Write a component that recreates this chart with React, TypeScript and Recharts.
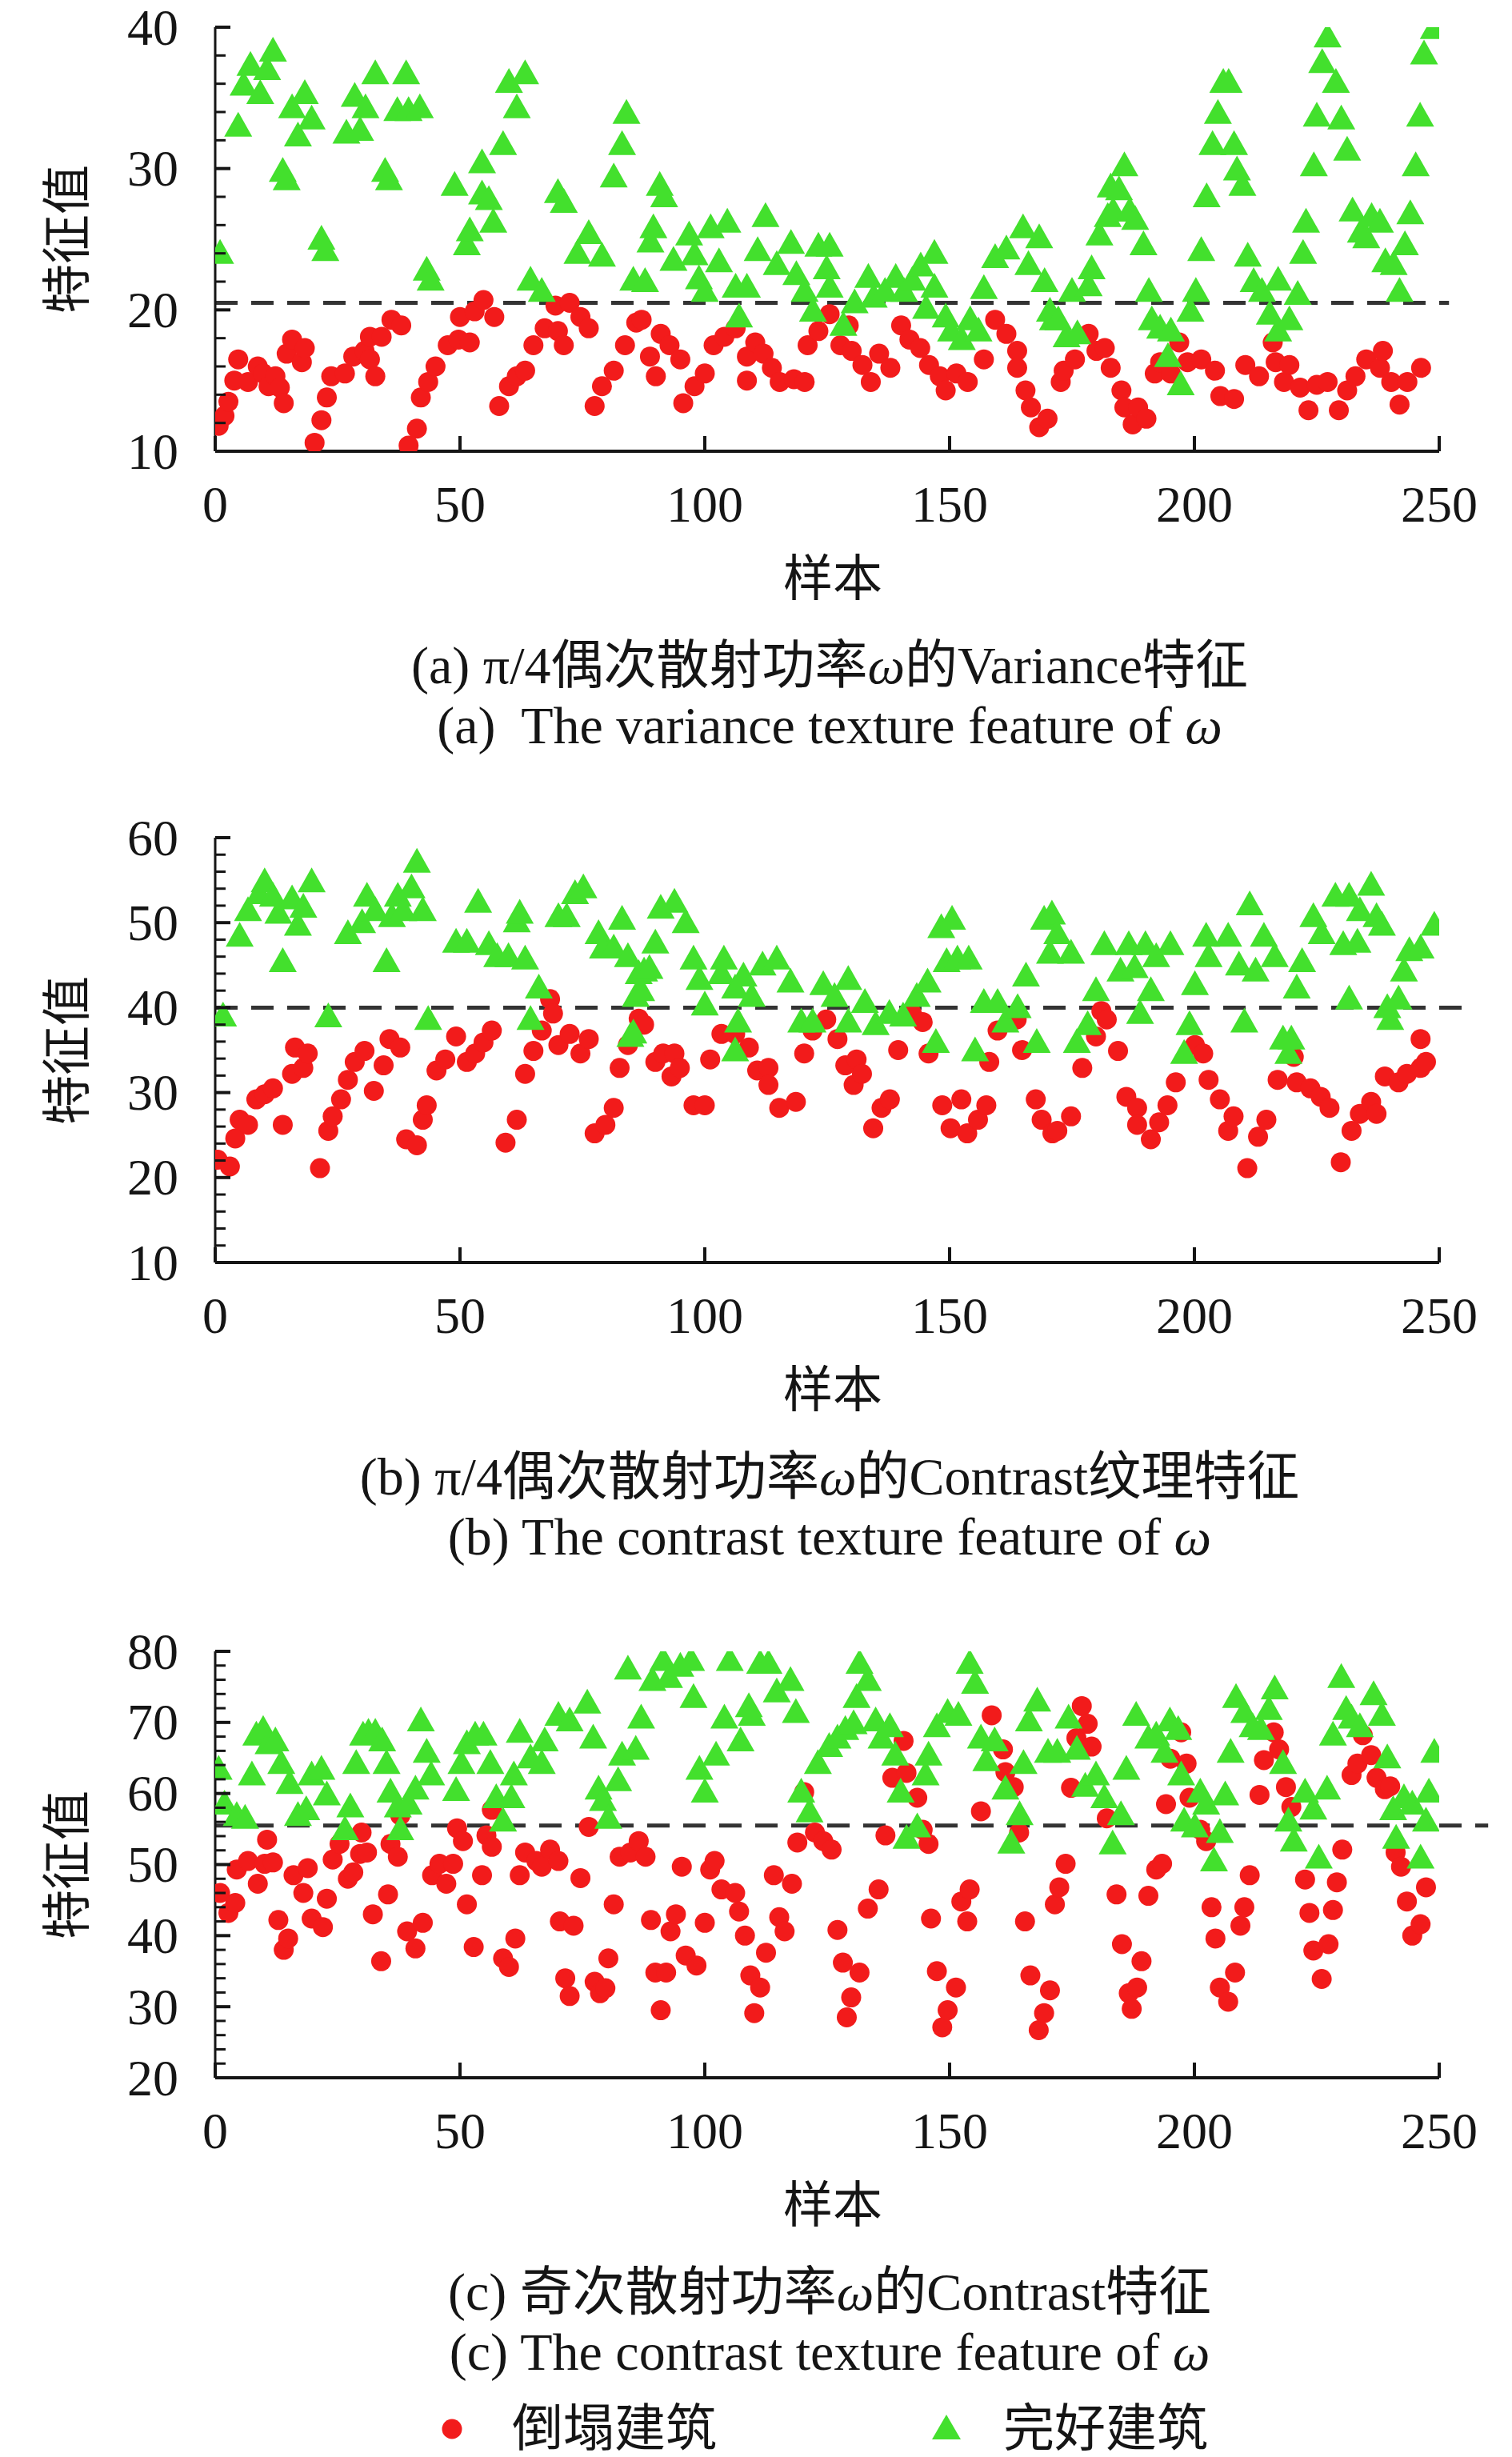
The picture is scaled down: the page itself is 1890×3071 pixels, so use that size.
import { ScatterChart, Scatter, XAxis, YAxis, ReferenceLine } from 'recharts';

// 样本编号 [x, 特征值 y]
const X_TICKS = [0, 50, 100, 150, 200, 250];
const Y_TICKS_A = [10, 12, 14, 16, 18, 20, 22, 24, 26, 28, 30, 32, 34, 36, 38, 40];
const Y_TICKS_B = [10, 12, 14, 16, 18, 20, 22, 24, 26, 28, 30, 32, 34, 36, 38, 40, 42, 44, 46, 48, 50, 52, 54, 56, 58, 60];
const Y_TICKS_C = [20, 22, 24, 26, 28, 30, 32, 34, 36, 38, 40, 42, 44, 46, 48, 50, 52, 54, 56, 58, 60, 62, 64, 66, 68, 70, 72, 74, 76, 78, 80];

const THRESHOLD_A = 20.5;
const THRESHOLD_B = 40;
const THRESHOLD_C = 55.5;

const COLLAPSED_A = [
  [0.7, 11.8], [1.9, 12.5], [2.7, 13.5], [3.9, 15], [4.7, 16.5], [6.7, 14.9], [8.7, 16], [9.8, 15.5], [10.9, 14.6], [12.3, 15.3],
  [13.2, 14.5], [14, 13.4], [14.6, 16.9], [15.7, 17.9], [17.7, 16.3], [18.3, 17.3], [20.3, 10.6], [21.7, 12.2], [22.8, 13.8], [23.7, 15.3],
  [26.5, 15.5], [28.2, 16.7], [30.5, 17.1], [31.6, 16.5], [31.6, 18.1], [32.7, 15.3], [34, 18.1], [36, 19.3], [38, 18.9], [39.5, 10.4],
  [41.2, 11.6], [42, 13.8], [43.5, 14.9], [45, 16], [47.5, 17.5], [49.7, 17.9], [50, 19.5], [52, 17.7], [53, 19.9], [54.8, 20.7],
  [57, 19.5], [58, 13.2], [60, 14.6], [61.6, 15.3], [63.3, 15.7], [65, 17.5], [67.3, 18.7], [69.5, 20.3], [70, 18.5], [71.2, 17.5],
  [72.4, 20.5], [74.6, 19.5], [76.3, 18.7], [77.5, 13.2], [79, 14.6], [81.4, 15.7], [83.7, 17.5], [86, 19.1], [87.1, 19.3], [88.8, 16.7],
  [90, 15.3], [91, 18.3], [92.8, 17.5], [95, 16.5], [95.6, 13.4], [97.9, 14.6], [100, 15.5], [101.8, 17.5], [104, 18.1], [106.3, 18.7],
  [108.6, 15], [108.6, 16.7], [110.3, 17.7], [112, 16.9], [113.7, 15.9], [115.3, 14.9], [118.2, 15.1], [120.4, 14.9], [121, 17.5], [123.2, 18.5],
  [125.5, 19.7], [127.7, 17.5], [129.4, 18.9], [130, 17.1], [132.2, 16.1], [133.9, 14.9], [135.6, 16.9], [137.9, 15.9], [140.1, 18.9], [141.8, 17.9],
  [144, 17.3], [145.8, 16.1], [148, 15.3], [149.2, 14.3], [151.4, 15.5], [153.7, 14.9], [157, 16.5], [159.3, 19.3], [161.6, 18.3], [163.8, 17.1],
  [163.8, 15.9], [165.5, 14.3], [166.6, 13.1], [168.3, 11.7], [170, 12.3], [172.7, 14.9], [173.3, 15.7], [175.6, 16.5], [178.4, 18.3], [180, 17.1],
  [181.7, 17.3], [182.9, 15.9], [185.1, 14.3], [185.7, 13.1], [187.4, 11.9], [188.5, 13.1], [190.2, 12.3], [191.9, 15.5], [193, 16.3], [195.2, 15.5],
  [196.9, 17.7], [198.6, 16.3], [201.4, 16.5], [204.2, 15.7], [205.3, 13.9], [208.1, 13.7], [210.4, 16.1], [213.2, 15.3], [216, 17.7], [216.6, 16.3],
  [218.3, 14.9], [219.4, 16.1], [221.6, 14.5], [223.3, 12.9], [225, 14.7], [227.2, 14.9], [229.5, 12.9], [231.2, 14.3], [232.9, 15.3], [235.1, 16.5],
  [237.9, 15.9], [238.5, 17.1], [240.2, 14.9], [241.9, 13.3], [243.5, 14.9], [246.3, 15.9],
];

const INTACT_A = [
  [1, 24], [4.7, 33], [5.8, 35.9], [7.2, 37.3], [9.2, 35.3], [10.6, 37], [11.8, 38.3], [13.8, 29.8], [14.6, 29.2], [15.7, 34.3],
  [16.9, 32.3], [18.3, 35.3], [19.7, 33.5], [21.7, 25], [22.5, 24.2], [26.8, 32.5], [28.5, 35.1], [29.6, 32.7], [30.7, 34.3], [32.7, 36.7],
  [34.7, 29.8], [35.5, 29.2], [37.2, 34.1], [39, 36.7], [39.5, 34.1], [41.8, 34.3], [43.2, 22.8], [44, 22.1], [48.9, 28.8], [51.4, 24.6],
  [52, 25.6], [54.5, 30.4], [54.5, 28.2], [55.9, 27.8], [56.8, 26.2], [58.8, 31.7], [60, 36.1], [61.6, 34.3], [63.3, 36.7], [64.4, 22.1],
  [66.7, 21.3], [70, 28.3], [71.2, 27.6], [74, 24], [76.3, 25.4], [79, 23.8], [81.4, 29.4], [83.1, 31.7], [84, 33.9], [85.4, 22.1],
  [87.8, 22], [88.9, 24.8], [89.5, 25.8], [90.8, 28.8], [91.7, 28], [93.6, 23.5], [96.8, 25.3], [97.9, 23.9], [98.8, 22.2], [100, 21.3],
  [101.2, 25.8], [102.9, 23.4], [104.6, 26.2], [106.3, 21.6], [107, 19.5], [108.6, 21.6], [110.8, 24.2], [112.4, 26.6], [114.7, 23.2], [117.6, 24.7],
  [118.7, 22.5], [120.4, 21.3], [122.1, 19.9], [123.2, 24.5], [124.9, 22.9], [125.5, 24.5], [125.5, 21.6], [128.3, 18.9], [130.6, 20.5], [133.4, 22.3],
  [134.5, 20.9], [136.8, 21.3], [139, 22.3], [140.7, 21.3], [142.4, 22.1], [144.1, 23.1], [145.2, 20.1], [146.9, 24], [146.9, 21.6], [149.2, 19.5],
  [150.3, 18.5], [152.5, 17.9], [154.2, 19.3], [155.9, 18.5], [157, 21.5], [159.3, 23.7], [161.6, 24.3], [165, 25.8], [166.1, 23.2], [168.3, 25.1],
  [169.4, 22], [170.5, 19.9], [171.1, 19.3], [172.2, 19.3], [173.9, 18.1], [175, 21.3], [176.1, 18.3], [178.4, 21.7], [179, 22.9], [180.6, 25.3],
  [182.3, 26.6], [182.9, 28.7], [183.4, 27], [184.6, 28.5], [185.7, 30.2], [186.8, 27], [187.9, 26.4], [189.6, 24.6], [190.7, 21.3], [191.3, 19.3],
  [193, 18.7], [194.6, 16.7], [195.2, 18.5], [197.2, 14.7], [199.2, 19.9], [200.3, 21.3], [201.4, 24.2], [202.5, 28], [203.7, 31.7], [204.8, 33.9],
  [205.9, 36.1], [207, 36.1], [208.1, 31.7], [208.7, 29.9], [209.8, 28.8], [210.9, 23.8], [212.1, 22], [213.8, 21.3], [215.4, 19.7], [217.1, 22.1],
  [217.1, 18.5], [219.4, 19.3], [221.1, 21.1], [222.2, 24], [222.8, 26.2], [224.4, 30.2], [225, 33.7], [226.1, 37.5], [227.2, 39.3], [228.9, 36.1],
  [230, 33.5], [231.2, 31.3], [232.3, 27], [234, 25.5], [235.1, 25.1], [236.2, 26.6], [237.9, 26.2], [239, 23.4], [240.7, 23.2], [241.9, 21.3],
  [243, 24.6], [244.1, 26.8], [245.2, 30.2], [246.1, 33.7], [246.9, 38.1], [248.9, 39.9],
];

const COLLAPSED_B = [
  [0.5, 22.1], [3, 21.3], [4.1, 24.6], [5, 26.8], [6.7, 26.2], [8.4, 29.2], [10.1, 29.8], [11.8, 30.5], [13.8, 26.2], [15.7, 32.2],
  [16.3, 35.3], [18, 32.9], [18.9, 34.6], [21.4, 21.1], [23.1, 25.5], [24, 27.2], [25.7, 29.2], [27.1, 31.5], [28.5, 33.6], [30.5, 34.9],
  [32.4, 30.2], [34.4, 33.2], [35.6, 36.3], [37.8, 35.3], [39, 24.5], [41.2, 23.8], [42.4, 26.8], [43.2, 28.5], [45.2, 32.6], [47, 33.9],
  [49.2, 36.6], [51.4, 33.6], [53.1, 34.6], [54.8, 35.9], [56.5, 37.3], [59.3, 24.1], [61.6, 26.8], [63.3, 32.2], [65, 34.9], [66.7, 37.3],
  [68.4, 41], [69, 39.3], [70.1, 35.6], [72.4, 36.9], [74.6, 34.6], [76.3, 36.3], [77.5, 25.2], [79.7, 26.2], [81.4, 28.2], [82.6, 32.9],
  [84.3, 35.6], [86.5, 38.7], [87.6, 38], [89.9, 33.6], [91.5, 34.6], [93.2, 31.9], [93.8, 34.6], [94.9, 32.9], [97.7, 28.5], [100, 28.5],
  [101.1, 33.9], [103.4, 36.9], [106.2, 36.9], [109, 35.3], [110.7, 32.6], [113, 32.9], [113, 30.9], [115.2, 28.2], [118.6, 28.9], [120.3, 34.6],
  [122, 37.3], [124.8, 38.6], [127.1, 36.3], [128.7, 33.2], [130.4, 30.9], [131, 33.9], [132.1, 32.2], [134.4, 25.8], [136.1, 28.2], [137.8, 29.2],
  [139.5, 35], [142.3, 39.3], [144.5, 38.3], [145.7, 34.6], [148.5, 28.5], [150.2, 25.8], [152.4, 29.2], [153.6, 25.2], [155.8, 26.8], [157.5, 28.5],
  [158.1, 33.6], [159.8, 37.3], [163.7, 38.6], [164.8, 35], [167.6, 29.2], [168.8, 26.8], [171, 25.2], [172, 25.5], [174.8, 27.2], [177.1, 32.9],
  [179.9, 36.6], [181, 39.6], [182.1, 38.6], [184.4, 34.9], [186.1, 29.5], [188.3, 28.2], [188.3, 26.2], [191.1, 24.5], [192.8, 26.5], [194.5, 28.5],
  [196.2, 31.2], [200.1, 35.6], [201.8, 34.6], [202.9, 31.5], [205.2, 29.2], [206.9, 25.5], [208, 27.2], [210.8, 21.1], [213, 24.8], [214.7, 26.8],
  [217, 31.5], [220.3, 34.2], [220.9, 31.2], [223.7, 30.5], [225.8, 29.5], [227.6, 28.2], [229.9, 21.8], [232.1, 25.5], [233.8, 27.5], [236.1, 28.9],
  [237.2, 27.5], [238.9, 31.9], [241.7, 31.2], [243.4, 32.2], [246.2, 32.9], [246.2, 36.3], [247.3, 33.6],
];

const INTACT_B = [
  [1.6, 39], [5, 48.4], [6.7, 51.4], [9, 53.4], [10.1, 54.8], [11.8, 53.1], [12.9, 51.1], [13.8, 45.4], [15.7, 52.8], [16.9, 49.7],
  [18, 51.8], [19.7, 54.8], [23.1, 38.9], [27.1, 48.7], [30, 50], [31, 53.1], [32.7, 51.4], [35, 45.4], [36.1, 50.7], [37.3, 53.1],
  [38.4, 51.4], [40.1, 54.1], [41.2, 57.1], [42.4, 51.4], [43.5, 38.6], [49.2, 47.7], [51.4, 47.7], [53.7, 52.4], [55.9, 47.4], [57.6, 46],
  [59.9, 46], [61.6, 50.1], [62.2, 51.1], [63.3, 45.7], [64.4, 38.6], [66.1, 42.3], [70.1, 50.7], [71.8, 50.7], [73.5, 53.4], [75.2, 54.1],
  [78.3, 48.7], [79.2, 47], [81.4, 47], [83.1, 50.4], [84.3, 46], [84.8, 36.6], [85.4, 37], [85.9, 41.3], [86.5, 44], [87, 42],
  [87.6, 44.3], [88.7, 44.6], [89.9, 47.6], [91, 51.7], [93.8, 52.4], [96.1, 50], [97.7, 45.7], [98.9, 43.3], [100, 40.3], [103.4, 44],
  [103.9, 45.7], [106.2, 42.3], [106.2, 34.9], [106.8, 38.3], [107.9, 43.7], [109.6, 41.3], [111.8, 45], [114.7, 45.7], [117.5, 43], [119.7, 38.3],
  [122, 38.3], [124.2, 42.7], [126.5, 41.3], [129.3, 43.3], [129.3, 38.3], [132.7, 40.6], [134.9, 38], [137.7, 39.3], [140.5, 39], [143.3, 41.3],
  [145.5, 43], [147.2, 35.9], [148.3, 49.4], [149.4, 45.4], [150.5, 50.4], [151.6, 45.7], [153.9, 45.7], [155.2, 34.9], [157, 40.6], [159.8, 40.6],
  [161.4, 38.3], [163.9, 40], [165.6, 43.7], [167.8, 35.9], [169.3, 50.4], [170.5, 46.4], [170.9, 51], [172, 48.7], [174.8, 46.4], [176, 35.9],
  [178.2, 38], [179.9, 42], [181.6, 47.4], [184.9, 44.3], [186.6, 47.4], [187.8, 44.7], [188.9, 39.3], [190, 47.4], [191.1, 42], [192.2, 46],
  [195.1, 47.4], [197.9, 34.6], [199, 38], [200.1, 42.7], [202.4, 48.4], [202.9, 46], [206.9, 48.4], [209.1, 45], [210.2, 38.3], [211.3, 52.1],
  [212.5, 44.3], [214.2, 48.4], [216.4, 46], [218.1, 36.3], [219.2, 34.6], [219.8, 36.3], [220.9, 42.3], [222, 45.4], [224.3, 50.7], [226, 48.7],
  [228.8, 53.1], [230.4, 47.4], [231.6, 53.1], [231.6, 41], [233.3, 47.7], [233.8, 51.4], [236.1, 54.4], [237.2, 50.7], [238.3, 49.7], [239.4, 40],
  [240, 38.6], [241.7, 41], [242.8, 44.3], [243.9, 46.7], [246.2, 47], [249, 49.7],
];

const COLLAPSED_C = [
  [1, 46], [2.7, 43.2], [4.1, 44.6], [4.4, 49.3], [6.7, 50.5], [8.7, 47.3], [10.1, 50.1], [10.6, 53.5], [11.8, 50.3], [12.9, 42.2],
  [14, 38], [14.9, 39.6], [16, 48.5], [18, 46], [18.9, 49.5], [19.7, 42.4], [22, 41.2], [22.8, 45.2], [24, 50.7], [25.4, 52.9],
  [27.1, 48], [28.2, 48.9], [29.6, 51.5], [29.9, 54.5], [31, 51.7], [32.2, 43], [33.9, 36.4], [35.3, 45.8], [35.8, 52.9], [37.3, 51.1],
  [37.8, 56.9], [39.2, 40.6], [40.9, 38.2], [42.4, 41.8], [44.3, 48.5], [45.8, 50.1], [47.2, 47.3], [48.6, 50.1], [49.4, 55.1], [50.6, 53.3],
  [51.4, 44.4], [52.8, 38.4], [54.5, 48.5], [55.4, 54.1], [56.5, 52.5], [56.5, 57.7], [58.8, 36.8], [60, 35.6], [61.3, 39.6], [62.2, 48.5],
  [63.3, 51.7], [65.6, 50.5], [66.7, 49.7], [68.4, 52.1], [70.1, 50.5], [70.4, 42], [71.5, 34], [72.4, 31.5], [73.2, 41.4], [74.6, 48.1],
  [76.3, 55.3], [77.5, 33.5], [78.6, 31.9], [79.7, 32.6], [80.3, 36.8], [81.4, 44.4], [82.6, 51.1], [84.8, 51.7], [86.5, 53.3], [87.9, 51.1],
  [89, 42.2], [89.9, 34.8], [91, 29.5], [92.1, 34.8], [93, 40.6], [94.1, 43], [95.3, 49.7], [96.1, 37.2], [98.3, 35.8], [100, 41.8],
  [101.1, 49.3], [102, 50.5], [103.4, 46.5], [106.2, 46], [107, 43.4], [108.2, 40], [109.3, 34.4], [110.1, 29.1], [111.3, 32.7], [112.5, 37.6],
  [114.1, 48.5], [115.2, 42.6], [116.3, 40.6], [117.8, 47.3], [118.9, 53.1], [120.3, 60.2], [122.5, 54.5], [124.2, 53.3], [125.9, 52.1], [127.1, 40.8],
  [128.2, 36.2], [129, 28.5], [129.9, 31.3], [131.6, 34.8], [133.3, 43.8], [135.5, 46.5], [136.9, 54.1], [138.3, 62.2], [140.6, 67.4], [141.2, 62.9],
  [143.4, 59.4], [144.5, 54.9], [145.7, 52.9], [146.2, 42.4], [147.4, 35], [148.5, 27.1], [149.6, 29.5], [151.3, 32.7], [152.4, 44.8], [153.6, 42],
  [154.1, 46.5], [156.4, 57.5], [158.6, 71], [160.9, 66.2], [161.4, 63], [163.1, 60.9], [164.2, 54.5], [165.4, 42], [166.5, 34.4], [168.2, 26.7],
  [169.3, 29.1], [170.5, 32.3], [171.5, 44.4], [172.4, 46.8], [173.7, 50.1], [174.8, 60.8], [175.9, 67.8], [177, 72.3], [178.2, 69.8], [179, 66.6],
  [182.1, 56.5], [184.1, 45.8], [185.2, 38.8], [186.6, 31.9], [187.2, 29.7], [188.3, 32.7], [189.2, 36.4], [190.6, 45.6], [192.2, 49.3], [193.4, 50.1],
  [194.2, 58.5], [195.1, 64.9], [197.3, 68.6], [198.4, 64.2], [199, 59.4], [201.2, 54.9], [202.4, 53.3], [203.5, 44], [204.3, 39.6], [205.2, 32.7],
  [206.9, 30.7], [208.3, 34.8], [209.4, 41.4], [210.2, 44], [211.3, 48.5], [213.3, 59.8], [214.2, 64.7], [216.2, 68.6], [217.3, 66.2], [218.7, 60.9],
  [219.8, 58.1], [222.6, 47.9], [223.5, 43.2], [224.3, 37.9], [226, 33.9], [227.4, 38.8], [228.3, 43.6], [229.1, 47.5], [230.2, 52.1], [232.1, 62.6],
  [233.3, 64.2], [234.4, 68.2], [236.1, 65.4], [237.2, 62.2], [238.9, 60.6], [240, 61], [241.1, 51.7], [242.2, 49.7], [243.4, 44.8], [244.5, 40],
  [246.2, 41.6], [247.3, 46.8],
];

const INTACT_C = [
  [0.7, 63.4], [1.9, 58.5], [4.4, 56.9], [6.1, 56.5], [7.5, 62.6], [8.4, 68.2], [9.8, 69], [10.9, 67], [12.3, 67.4], [13.5, 64.2],
  [15.2, 61.4], [16.9, 56.9], [18.6, 57.7], [19.7, 62.6], [21.7, 63.4], [22.8, 59.8], [26.5, 54.9], [27.6, 58.1], [28.8, 64.2], [30.2, 68.2],
  [31.3, 68.6], [32.7, 68.6], [34.1, 67.4], [35, 64.2], [35.8, 60.2], [37.3, 58.1], [37.8, 54.9], [39.5, 58.5], [40.9, 60.6], [42, 70.2],
  [43.2, 65.8], [44.1, 62.6], [49.2, 60.4], [50.3, 64.2], [51.4, 67], [53.1, 68.2], [54.8, 68.2], [56.2, 64.2], [57.4, 59.4], [58.8, 56.1],
  [60.5, 59.4], [61, 62.6], [62.2, 68.6], [64.4, 65], [66.7, 64.2], [67.3, 67.4], [70.1, 71], [72.4, 70.2], [76, 72.7], [77.2, 67.8],
  [78.3, 60.6], [79.2, 59], [80.3, 56.5], [82.3, 61.8], [83.1, 65.4], [84.3, 77.5], [85.9, 66.2], [87, 70.6], [89.3, 75.9], [91.5, 78.7],
  [92.7, 76.3], [95, 77.9], [97.2, 78.7], [97.7, 73.5], [98.9, 63.4], [100, 60.2], [102.3, 65.4], [104, 70.6], [105.1, 78.7], [107.3, 67.4],
  [109, 72.2], [109.6, 71], [111.3, 78.3], [113, 78.3], [114.7, 74.3], [117.5, 75.9], [118.6, 71.4], [119.7, 60.2], [121.4, 57.4], [123.1, 64.2],
  [125.4, 66.6], [127.1, 67.8], [128.7, 69], [130.4, 69.8], [131, 73.5], [131.6, 78.3], [133.3, 75.9], [134.9, 70.2], [136.1, 67.8], [137.8, 69.4],
  [138.9, 65.4], [140, 60.2], [141.2, 53.7], [143.4, 55.3], [145.1, 62.6], [145.7, 65.4], [147.4, 69.4], [149.6, 71.4], [151.8, 71], [154.1, 78.3],
  [155.2, 75.5], [156.4, 67.8], [157.5, 64.6], [159.2, 67.4], [161.4, 60.6], [162.6, 53], [164.3, 57], [165.1, 64.2], [166.2, 70.2], [167.9, 73],
  [170.1, 65.8], [172, 65.8], [174.3, 70.6], [176, 66.2], [177.7, 61], [179.9, 62.6], [181.6, 59.4], [183.3, 52.9], [185, 57], [186.1, 63.4],
  [188.1, 71], [190.6, 67.8], [192.2, 68.2], [193.9, 65.8], [195, 70.2], [196.7, 69], [197.3, 62.6], [197.9, 56.1], [200.1, 55.3], [201.2, 60.2],
  [202.4, 58.5], [204, 50.5], [205.2, 54.5], [206.3, 59.8], [207.4, 65.8], [208.5, 73.5], [210.2, 71.4], [211.9, 69.4], [213.6, 69], [215.2, 71.8],
  [216.4, 74.7], [218.1, 64.2], [219.2, 56.1], [220.3, 53.3], [222.6, 60.2], [224.3, 57.8], [225.4, 50.9], [227.1, 60.6], [228.3, 68.2], [230, 76.3],
  [231, 71.8], [232.1, 70.6], [233.8, 69.4], [236.6, 73.9], [238.3, 71], [239.4, 65], [240.6, 57.7], [241.2, 53.7], [242.8, 59.4], [244.5, 58.5],
  [246.2, 50.9], [247.3, 56.1], [247.9, 60.2], [249, 65.8],
];

const SERIF = '"Liberation Serif", "Times New Roman", "Noto Sans CJK SC", serif';
const INK = '#151515';
const RED = '#f21b1b';
const GREEN = '#43e02d';

const toPoints = (rows: number[][]) => rows.map(([x, y]) => ({ x, y }));

const Dot = (p: any) => <circle cx={p.cx} cy={p.cy} r={12.5} fill={RED} />;
const Tri = (p: any) => (
  <polygon
    points={`${p.cx},${p.cy - 18} ${p.cx - 17.5},${p.cy + 13} ${p.cx + 17.5},${p.cy + 13}`}
    fill={GREEN}
  />
);

function XTick(props: any) {
  const { x, y, payload } = props;
  return (
    <g>
      <line x1={x} y1={y} x2={x} y2={y - 19} stroke={INK} strokeWidth={4} />
      <text x={x} y={y + 66} textAnchor="middle" dominantBaseline="central" fontSize={64} fontFamily={SERIF} fill={INK}>
        {payload.value}
      </text>
    </g>
  );
}

function YTick(props: any) {
  const { x, y, payload } = props;
  const major = payload.value % 10 === 0;
  return (
    <g>
      <line x1={x} y1={y} x2={x + (major ? 19 : 13)} y2={y} stroke={INK} strokeWidth={major ? 4 : 3} />
      {major && (
        <text x={x - 46} y={y} textAnchor="end" dominantBaseline="central" fontSize={64} fontFamily={SERIF} fill={INK}>
          {payload.value}
        </text>
      )}
    </g>
  );
}

const textStyle = { position: 'absolute' as const, fontFamily: SERIF, color: INK, whiteSpace: 'nowrap' as const };

function Centered({ cx, cy, size, children }: any) {
  return (
    <div style={{ ...textStyle, left: cx - 1000, top: cy - 45, width: 2000, height: 90, lineHeight: '90px', textAlign: 'center', fontSize: size }}>
      {children}
    </div>
  );
}

function Panel({ top, height, domain, yTicks, collapsed, intact, threshold, dashEnd, line1, line2 }: any) {
  const mt = 34;
  const bottom = top + height;
  return (
    <>
      <div style={{ position: 'absolute', left: 0, top: top - mt }}>
        <ScatterChart
          width={1890}
          height={mt + height + 110}
          margin={{ top: mt, right: 91, bottom: 0, left: 189 }}
          style={{ overflow: 'visible' }}
        >
          <XAxis
            type="number"
            dataKey="x"
            domain={[0, 250]}
            ticks={X_TICKS}
            interval={0}
            height={110}
            tickSize={0}
            tickMargin={0}
            tickLine={false}
            axisLine={{ stroke: INK, strokeWidth: 4 }}
            tick={(p: any) => <XTick {...p} />}
            allowDataOverflow
          />
          <YAxis
            type="number"
            dataKey="y"
            domain={domain}
            ticks={yTicks}
            interval={0}
            width={80}
            tickSize={0}
            tickMargin={0}
            tickLine={false}
            axisLine={{ stroke: INK, strokeWidth: 3 }}
            tick={(p: any) => <YTick {...p} />}
            allowDataOverflow
          />
          <Scatter data={toPoints(collapsed)} shape={Dot} isAnimationActive={false} />
          <Scatter data={toPoints(intact)} shape={Tri} isAnimationActive={false} />
          <ReferenceLine
            segment={[{ x: 0, y: threshold }, { x: dashEnd, y: threshold }]}
            ifOverflow="visible"
            stroke="#333"
            strokeWidth={5}
            strokeDasharray="28 17"
          />
        </ScatterChart>
      </div>
      <div
        style={{
          ...textStyle,
          left: 85 - 150,
          top: top + height / 2 - 45,
          width: 300,
          height: 90,
          lineHeight: '90px',
          textAlign: 'center',
          fontSize: 62,
          transform: 'rotate(-90deg)',
        }}
      >
        特征值
      </div>
      <Centered cx={1041} cy={bottom + 160} size={62}>样本</Centered>
      <Centered cx={1037} cy={bottom + 268} size={66}>{line1}</Centered>
      <Centered cx={1037} cy={bottom + 343} size={66}>{line2}</Centered>
    </>
  );
}

const omega = <span style={{ fontStyle: 'italic' }}>ω</span>;

export default function App() {
  return (
    <div style={{ position: 'absolute', left: 0, top: 0, width: 1890, height: 3071, background: '#fff', overflow: 'hidden' }}>
      <Panel
        top={34}
        height={530}
        domain={[10, 40]}
        yTicks={Y_TICKS_A}
        collapsed={COLLAPSED_A}
        intact={INTACT_A}
        threshold={THRESHOLD_A}
        dashEnd={252}
        line1={<>(a) π/4偶次散射功率{omega}的Variance特征</>}
        line2={<>(a)&nbsp; The variance texture feature of {omega}</>}
      />
      <Panel
        top={1047}
        height={531}
        domain={[10, 60]}
        yTicks={Y_TICKS_B}
        collapsed={COLLAPSED_B}
        intact={INTACT_B}
        threshold={THRESHOLD_B}
        dashEnd={257}
        line1={<>(b) π/4偶次散射功率{omega}的Contrast纹理特征</>}
        line2={<>(b) The contrast texture feature of {omega}</>}
      />
      <Panel
        top={2064}
        height={533}
        domain={[20, 80]}
        yTicks={Y_TICKS_C}
        collapsed={COLLAPSED_C}
        intact={INTACT_C}
        threshold={THRESHOLD_C}
        dashEnd={260}
        line1={<>(c) 奇次散射功率{omega}的Contrast特征</>}
        line2={<>(c) The contrast texture feature of {omega}</>}
      />
      <svg style={{ position: 'absolute', left: 540, top: 3010 }} width={700} height={52}>
        <circle cx={25} cy={26} r={12.5} fill={RED} />
        <polygon points="643,8 625,39 661,39" fill={GREEN} />
      </svg>
      <div style={{ ...textStyle, left: 640, top: 3036 - 45, height: 90, lineHeight: '90px', fontSize: 64 }}>倒塌建筑</div>
      <div style={{ ...textStyle, left: 1254, top: 3036 - 45, height: 90, lineHeight: '90px', fontSize: 64 }}>完好建筑</div>
    </div>
  );
}
